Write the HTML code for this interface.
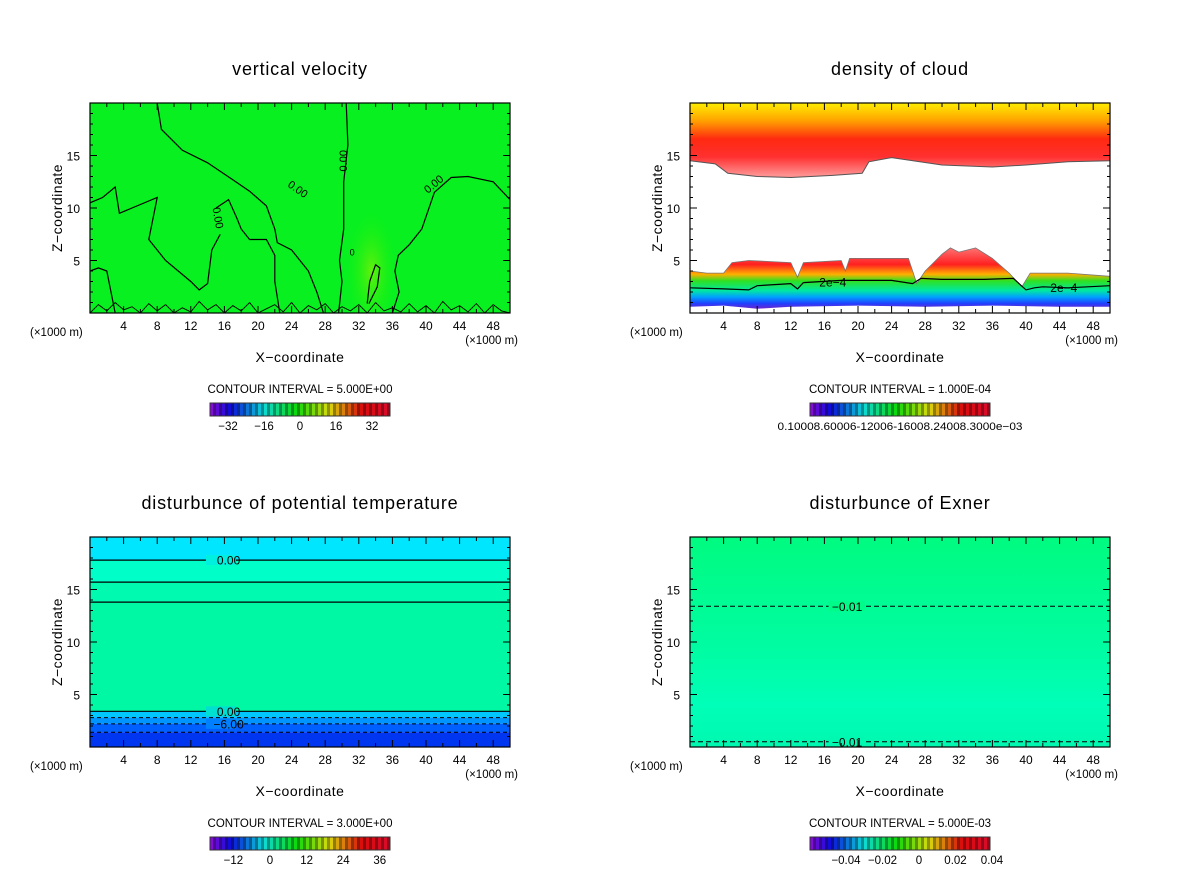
<!DOCTYPE html>
<html><head><meta charset="utf-8">
<style>
body{margin:0;background:#fff;}
svg text{font-family:"Liberation Sans",sans-serif;fill:#000;}
</style></head>
<body>
<svg id="fig" width="1200" height="868" viewBox="0 0 1200 868" xmlns="http://www.w3.org/2000/svg">
<defs>
<clipPath id="clip1"><rect x="90" y="103" width="420" height="210"/></clipPath>
<linearGradient id="g1top" gradientUnits="userSpaceOnUse" x1="0" y1="103" x2="0" y2="175">
<stop offset="0" stop-color="#ffee00"/><stop offset="0.25" stop-color="#ffa000"/><stop offset="0.5" stop-color="#ff2a10"/><stop offset="0.75" stop-color="#ff3030"/><stop offset="1" stop-color="#ff9090"/>
</linearGradient>
<linearGradient id="g1bot" gradientUnits="userSpaceOnUse" x1="0" y1="245" x2="0" y2="310">
<stop offset="0" stop-color="#ff8080"/><stop offset="0.3" stop-color="#ff2020"/><stop offset="0.45" stop-color="#ffb000"/><stop offset="0.55" stop-color="#30e020"/><stop offset="0.7" stop-color="#00e8a0"/><stop offset="0.8" stop-color="#00a0ff"/><stop offset="0.9" stop-color="#2040ff"/><stop offset="1" stop-color="#8020c0"/>
</linearGradient>
<linearGradient id="g4" x1="0" y1="0" x2="0" y2="1">
<stop offset="0" stop-color="#00fb80"/><stop offset="0.5" stop-color="#00fca0"/><stop offset="0.8" stop-color="#00ffb8"/><stop offset="1" stop-color="#00f8b0"/>
</linearGradient>
<radialGradient id="g0spot" cx="0.5" cy="0.5" r="0.5">
<stop offset="0" stop-color="#a0f000"/><stop offset="1" stop-color="#20f000" stop-opacity="0"/>
</radialGradient>
</defs>
</svg>
<script>
// ---- data (km units: x 0..50, z 0..20) ----
const xTicks = [4,8,12,16,20,24,28,32,36,40,44,48];
const zTicks = [5,10,15];
const titles = ["vertical velocity","density of cloud","disturbunce of potential temperature","disturbunce of Exner"];
const intervals = ["CONTOUR INTERVAL = 5.000E+00","CONTOUR INTERVAL = 1.000E-04","CONTOUR INTERVAL = 3.000E+00","CONTOUR INTERVAL = 5.000E-03"];
const cbLabels1 = [-32,-16,0,16,32];
const cbLabels3 = [-12,0,12,24,36];
const cbLabels4 = ["-0.04","-0.02","0","0.02","0.04"];
// vertical velocity zero contours
const wC1 = [[8,20],[8.5,17.5],[11,15.5],[14,14.3],[17,12.7],[19,11.6],[21,10.2],[22,8],[22.3,6.7],[24,6],[26,4],[27,2],[27.8,0]];
const wC2 = [[30.5,20],[30.7,16],[30.2,12.5],[30.2,8],[29.7,5],[30,3],[29.6,0]];
const wC3 = [[50,10.8],[48,12.5],[45,13],[43,12.9],[41,11.5],[39.5,8],[38,6.5],[36.7,5.5],[36.3,4],[36.8,2],[36,0]];
const wC4 = [[0,10.5],[1.5,11],[3,12],[3.5,9.5],[5,10],[8,11],[7,7],[9,5],[12,3],[13,2.2],[14,2.8],[14.5,6],[15.5,7.5]];
const wC5 = [[15,10],[16.5,10.8],[17.5,9],[18,8],[19,7],[21,7],[22,5.5],[22,3],[22.6,0]];
const wC6 = [[0,4],[1,4.3],[2,4],[2.5,2],[3,0]];
const wC7 = [[33,0.9],[33.3,3],[34,4.6],[34.5,4.3],[34.2,2.5],[33.2,0.9]];
const wNoise = [0,0.8,0.2,1,0.3,0.6,0,0.9,0.2,0.8,0,0.5,0.1,1.1,0.3,0.8,0,0.7,0.2,1.0,0,0.4,0.8,0.1,1.0,0,0.7,0.3,0.9,0,0.6,0.2,0.8,0,1.0,0.2,0.5,0.1,0.9,0.1,0.7,0,1.1,0.3,0.7,0.1,0.9,0,0.8,0.2,0];
// cloud density
const qTopEdge = [[0,14.5],[3,14.2],[4.5,13.3],[8,13],[12,12.9],[17,13.1],[20.5,13.3],[21.3,14.4],[24,14.8],[30,14.1],[36,13.9],[40,14.1],[45,14.4],[50,14.5]];
const qLowTop = [[0,4],[2,3.8],[4,3.8],[5,4.8],[7,5],[12,4.8],[12.8,3.4],[13.5,4.8],[18,5],[18.5,4],[19,5.2],[24,5.2],[26,5.2],[27,2.8],[28,4],[30,5.6],[31,6.2],[32,5.8],[34,6.2],[36,5.2],[38,3.8],[39.5,2.5],[40.5,3.8],[45,3.8],[50,3.5]];
const qLowBot = [[0,0.6],[4,0.7],[8,0.4],[12,0.6],[20,0.7],[28,0.6],[36,0.7],[44,0.6],[50,0.6]];
const q2e4 = [[0,2.4],[4,2.3],[7,2.2],[8,2.6],[12,2.8],[12.8,2.3],[13.5,2.9],[18,3.1],[24,3.1],[26.5,2.8],[27.5,3.3],[30,3.2],[35,3.2],[38.5,3.3],[40,2.2],[41,2.4],[42,2.5],[45,2.4],[50,2.6]];
// potential temperature bands
const thBandZ = [20,17.8,3.4,2.8,2.2,1.4,0];
const thBandColors = ["#00e6ff","#00f8b0","#00c8ff","#0094ff","#0060ff","#0036f0"];
const thMidBands = [[17.8,15.7,"#00ffc8"],[15.7,13.8,"#00fbb0"],[13.8,3.4,"#00f8a4"]];
const thSolid = [17.8,15.7,13.8,3.4];
const thDashed = [2.8,2.2,1.4];
// Exner dashed contours
const exDashed = [13.4,0.5];

const svg = document.getElementById('fig');
const NS = 'http://www.w3.org/2000/svg';
function el(tag, attrs, parent){const e=document.createElementNS(NS,tag);for(const k in attrs)e.setAttribute(k,attrs[k]);(parent||svg).appendChild(e);return e;}

const panels = [{ox:90,oy:103},{ox:690,oy:103},{ox:90,oy:537},{ox:690,oy:537}];
const PW=420, PH=210;
function sx(p,x){return p.ox + x/50*PW;}
function sy(p,z){return p.oy + PH - z/20*PH;}
function pts(p,arr){return arr.map(a=>sx(p,a[0]).toFixed(1)+','+sy(p,a[1]).toFixed(1)).join(' ');}

function txt(s,x,y,size,anchor,parent,extra){const t=el('text',Object.assign({x:x,y:y,'font-size':size,'text-anchor':anchor||'middle'},extra||{}),parent);t.textContent=s;return t;}

function frame(i){
  const p=panels[i];
  const g=el('g',{});
  
  
  const tt=txt(titles[i],p.ox+210,p.oy-28,18,'middle',g,{'letter-spacing':'0.8'});
  
  
  return g;
}

function axes(i,g){
  const p=panels[i];
  el('rect',{x:p.ox,y:p.oy,width:PW,height:PH,fill:'none',stroke:'#000','stroke-width':1.2},g);
  for(let x=2;x<50;x+=2){const big=x%4===0;const L=big?7:4;
    el('line',{x1:sx(p,x),x2:sx(p,x),y1:p.oy+PH,y2:p.oy+PH-L,stroke:'#000'},g);
    el('line',{x1:sx(p,x),x2:sx(p,x),y1:p.oy,y2:p.oy+L,stroke:'#000'},g);}
  for(let z=1;z<20;z++){const big=z%5===0;const L=big?7:3;
    el('line',{x1:p.ox,x2:p.ox+L,y1:sy(p,z),y2:sy(p,z),stroke:'#000'},g);
    el('line',{x1:p.ox+PW,x2:p.ox+PW-L,y1:sy(p,z),y2:sy(p,z),stroke:'#000'},g);}
  xTicks.forEach(v=>{const t=txt(String(v),sx(p,v),p.oy+PH+17,12,'middle',g);
    
    });
  zTicks.forEach(v=>{const t=txt(String(v),p.ox-10,sy(p,v)+5,12,'end',g);
    
    });
  txt('(×1000 m)',p.ox-60,p.oy+PH+23,11.5,'start',g);
  txt('(×1000 m)',p.ox+PW+8,p.oy+PH+31,11.5,'end',g);
  const xl=txt('X−coordinate',p.ox+210,p.oy+PH+49,14,'middle',g,{'letter-spacing':'0.5'});
  
  
  const zl=txt('Z−coordinate',0,0,14,'middle',g,{'letter-spacing':'0.5',transform:'translate('+(p.ox-28)+','+(p.oy+105)+') rotate(-90)'});
  
  
  const ci=txt(intervals[i],p.ox+210,p.oy+PH+80,11.5,'middle',g);
  
  
  const cb=el('g',{},g);
  
  
  const bx=p.ox+120, by=p.oy+PH+90, bw=180, bh=13, n=60;
  for(let k=0;k<n;k++){
    const f=k/(n-1);
    const h=f<0.85? 275 - f/0.85*275 : 360-(f-0.85)*60;
    const l=k%2? 30:45;
    el('rect',{x:bx+k*bw/n,y:by,width:bw/n+0.2,height:bh,fill:'hsl('+h+',90%,'+l+'%)'},cb);
  }
  el('rect',{x:bx,y:by,width:bw,height:bh,fill:'none',stroke:'#333'},cb);
  return {bx,by,bw};
}

// ---- panel 1 ----
(function(){
  const i=0,p=panels[i];const g=frame(i);
  const inner=el('g',{'clip-path':'url(#clip1)'},g);
  el('rect',{x:p.ox,y:p.oy,width:PW,height:PH,fill:'#08f020'},inner);
  el('ellipse',{cx:sx(p,33.5),cy:sy(p,4),rx:25,ry:60,fill:'url(#g0spot)',opacity:0.6},inner);
  [wC1,wC2,wC3,wC4,wC5,wC6,wC7].forEach(c=>{const l=el('polyline',{points:pts(p,c),fill:'none',stroke:'#000','stroke-width':1.2},inner);
    
    });
  const nz=wNoise.map((v,k)=>[k*50/(wNoise.length-1),v]);
  el('polyline',{points:pts(p,nz),fill:'none',stroke:'#000','stroke-width':0.9},inner);
  const lab=[[24.5,11.5,35],[30.6,14.5,-90],[41.2,12,-40],[14.8,9,80]];
  lab.forEach(a=>{txt('0.00',0,0,11,'middle',inner,{transform:'translate('+sx(p,a[0])+','+sy(p,a[1])+') rotate('+a[2]+')'});});
  txt('0',sx(p,31.2),sy(p,5.5),9,'middle',inner);
  const cb=axes(i,g);
  cbLabels1.forEach(v=>{txt(v<0?'−'+(-v):String(v),cb.bx+90+v*2.25,cb.by+27,11.5,'middle',g);});
})();

// ---- panel 2 ----
(function(){
  const i=1,p=panels[i];const g=frame(i);
  el('rect',{x:p.ox,y:p.oy,width:PW,height:PH,fill:'#fff'},g);
  const top=qTopEdge.concat([[50,20],[0,20]]);
  el('polygon',{points:pts(p,top),fill:'url(#g1top)',stroke:'#555','stroke-width':1},g);
  const low=qLowTop.concat(qLowBot.slice().reverse());
  el('polygon',{points:pts(p,low),fill:'url(#g1bot)'},g);
  el('polyline',{points:pts(p,qLowTop),fill:'none',stroke:'#777','stroke-width':0.8},g);
  const c=el('polyline',{points:pts(p,q2e4),fill:'none',stroke:'#000','stroke-width':1.2},g);
  
  
  txt('2e−4',sx(p,17),sy(p,2.9)+4,12,'middle',g);
  txt('2e−4',sx(p,44.5),sy(p,2.4)+4,12,'middle',g);
  const cb=axes(i,g);
  txt('0.10008.60006-12006-16008.24008.3000e−03',cb.bx+90,cb.by+27,11,'middle',g,{textLength:245,lengthAdjust:'spacingAndGlyphs'});
})();

// ---- panel 3 ----
(function(){
  const i=2,p=panels[i];const g=frame(i);
  for(let k=0;k<thBandColors.length;k++){
    el('rect',{x:p.ox,y:sy(p,thBandZ[k]),width:PW,height:sy(p,thBandZ[k+1])-sy(p,thBandZ[k]),fill:thBandColors[k]},g);}
  thMidBands.forEach(b=>el('rect',{x:p.ox,y:sy(p,b[0]),width:PW,height:sy(p,b[1])-sy(p,b[0]),fill:b[2]},g));
  thSolid.forEach(z=>{const l=el('line',{x1:p.ox,x2:p.ox+PW,y1:sy(p,z),y2:sy(p,z),stroke:'#000','stroke-width':1.2},g);
    
    });
  thDashed.forEach(z=>{const l=el('line',{x1:p.ox,x2:p.ox+PW,y1:sy(p,z),y2:sy(p,z),stroke:'#000','stroke-width':1,'stroke-dasharray':'4,3'},g);
    
    });
  [[17.8,'0.00','#00f0e0'],[3.4,'0.00','#00e0d0'],[2.2,'−6.00','#0080ff']].forEach(a=>{
    const y=sy(p,a[0]);el('rect',{x:sx(p,13.8),y:y-5,width:30,height:10,fill:a[2]},g);
    txt(a[1],sx(p,16.5),y+4.5,12,'middle',g);});
  const cb=axes(i,g);
  cbLabels3.forEach(v=>{txt(v<0?'−'+(-v):String(v),cb.bx+60+v*3.05,cb.by+27,11.5,'middle',g);});
})();

// ---- panel 4 ----
(function(){
  const i=3,p=panels[i];const g=frame(i);
  el('rect',{x:p.ox,y:p.oy,width:PW,height:PH,fill:'url(#g4)'},g);
  exDashed.forEach(z=>{const y=sy(p,z);
    const l=el('line',{x1:p.ox,x2:p.ox+PW,y1:y,y2:y,stroke:'#000','stroke-width':1,'stroke-dasharray':'5,3'},g);
    
    
    el('rect',{x:sx(p,16.5),y:y-5,width:36,height:10,fill:z>5?'#00fb88':'#00f8b0'},g);
    txt('−0.01',sx(p,18.7),y+4.5,12,'middle',g);});
  const cb=axes(i,g);
  cbLabels4.forEach((v,k)=>{txt(v.replace('-','−'),cb.bx+36+k*36.5,cb.by+27,11.5,'middle',g);});
})();
</script>
</body></html>
